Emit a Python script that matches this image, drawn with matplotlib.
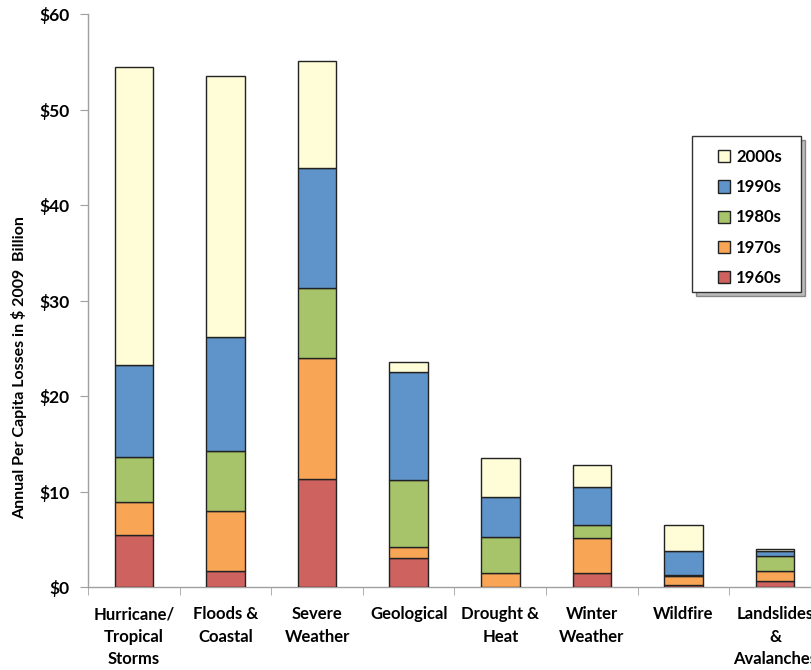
import numpy as np
import matplotlib.pyplot as plt
from matplotlib.patches import Rectangle, Shadow
from matplotlib.ticker import FixedLocator, FuncFormatter

# hazard categories and per-decade losses (stacked, bottom to top)
categories = ["Hurricane/\nTropical\nStorms", "Floods &\nCoastal", "Severe\nWeather",
              "Geological", "Drought &\nHeat", "Winter\nWeather", "Wildfire",
              "Landslides\n&\nAvalanches"]
decades = ["1960s", "1970s", "1980s", "1990s", "2000s"]
loss_1960s = [5.45, 1.68, 11.3, 3.0, 0.0, 1.43, 0.2, 0.66]
loss_1970s = [3.48, 6.28, 12.68, 1.22, 1.43, 3.67, 1.0, 1.04]
loss_1980s = [4.72, 6.31, 7.32, 6.98, 3.84, 1.4, 0.1, 1.5]
loss_1990s = [9.6, 11.88, 12.54, 11.35, 4.19, 3.94, 2.5, 0.6]
loss_2000s = [31.25, 27.35, 11.26, 1.05, 4.02, 2.34, 2.7, 0.15]

colors = ["#CD625E", "#F9A556", "#A8C46B", "#5E94C9", "#FEFDD7"]

W, H = 812, 670
fig = plt.figure(figsize=(W / 100, H / 100), dpi=100)
ax = fig.add_axes([0.1084, 0.1239, 0.9026, 0.855])

x = np.arange(len(categories))
series = [loss_1960s, loss_1970s, loss_1980s, loss_1990s, loss_2000s]
bottom = np.zeros(len(categories))
handles = []
for name, vals, c in zip(decades, series, colors):
    h = ax.bar(x, vals, width=0.42, bottom=bottom, color=c,
               edgecolor="#222222", linewidth=1.0, label=name, zorder=3)
    handles.append(h)
    bottom += np.array(vals)

ax.set_xlim(-0.5, len(categories) - 0.5)
ax.set_ylim(0, 60)
ax.set_yticks(np.arange(0, 61, 10))
ax.yaxis.set_major_formatter(FuncFormatter(lambda v, p: "\\$%d" % v))
ax.set_xticks(x)
ax.set_xticklabels(categories, fontsize=12, fontweight="bold", linespacing=1.5,
                   family="Lato", va="top")
ax.xaxis.set_minor_locator(FixedLocator(np.arange(-0.5, len(categories), 1)))
ax.tick_params(axis="x", which="major", length=0, pad=14)
ax.tick_params(axis="x", which="minor", length=6, color="#A0A0A0", direction="out")
ax.tick_params(axis="y", length=6, color="#A0A0A0", direction="out", pad=7)
for lab in ax.get_yticklabels():
    lab.set_fontsize(12.5)
    lab.set_fontweight("bold")
    lab.set_family("Lato")

for s in ["top", "right"]:
    ax.spines[s].set_visible(False)
for s in ["left", "bottom"]:
    ax.spines[s].set_color("#A0A0A0")
    ax.spines[s].set_linewidth(1.0)

fig.text(0.0234, 0.451, "Annual Per Capita Losses in \\$ 2009  Billion", rotation=90,
         ha="center", va="center", fontsize=11.5, fontweight="bold", family="Lato")

# legend box drawn separately so the padding around the entries can be wider
box = Rectangle((692 / W, 1 - 292 / H), 109 / W, 156 / H, transform=fig.transFigure,
                facecolor="white", edgecolor="#333333", linewidth=1.0, zorder=5)
shadow = Shadow(box, 3 / W, -3 / H, facecolor="#909090", alpha=0.6, zorder=4)
ax.add_artist(shadow)
ax.add_artist(box)

leg = ax.legend(handles[::-1], decades[::-1], loc="upper left",
                bbox_to_anchor=(0.8595, 0.7644), borderaxespad=0, frameon=False,
                handlelength=0.75, handleheight=0.75, labelspacing=0.85,
                borderpad=0, handletextpad=0.35,
                prop={"family": "Lato", "weight": "bold", "size": 12})
leg.set_zorder(6)

fig.savefig("out.png", dpi=100)
